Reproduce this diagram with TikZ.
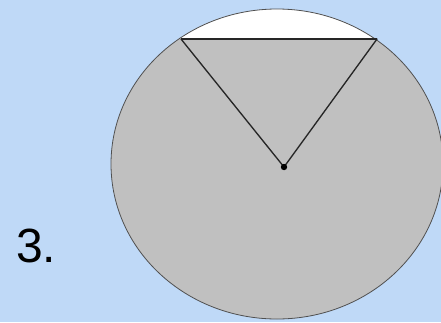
\documentclass[tikz,border=0pt]{standalone}
\usepackage{fontspec}
\setmainfont{Liberation Sans}
\usetikzlibrary{positioning}
\definecolor{skyback}{HTML}{BFD9F7}
\definecolor{discgray}{HTML}{C0C0C0}
\definecolor{rimgray}{HTML}{505050}
\tikzset{
  rim/.style={draw=rimgray, line width=0.6pt},
  chordline/.style={draw=black!85, line width=1.3pt},
  radiusline/.style={draw=black!85, line width=1pt, line cap=round},
  numlabel/.style={font=\fontsize{36}{42}\selectfont, text=black, inner sep=0pt, anchor=base west}
}

\begin{document}
\begin{tikzpicture}[x=0.75pt,y=-0.75pt]
  % background and fixed frame
  \fill[skyback] (0,0) rectangle (441,322);
  \useasboundingbox (0,0) rectangle (441,322);

  % points of the figure
  \coordinate (O) at (284,167);
  \coordinate (A) at (181,39);
  \coordinate (B) at (377,39);

  % the disc with its white segment above the chord
  \fill[discgray] (277,164) ellipse [x radius=166, y radius=155];
  \begin{scope}
    \clip (277,164) ellipse [x radius=166, y radius=155];
    \fill[white] (100,0) rectangle (450,39);
  \end{scope}
  \draw[rim] (277,164) ellipse [x radius=166, y radius=155];

  % chord and the two radii
  \draw[chordline] (A) -- (B);
  \draw[radiusline] (A) -- (O) -- (B);
  \fill[black] (O) circle (3.2);

  \node[numlabel] (num) at (16,262) {3.};
\end{tikzpicture}
\end{document}
